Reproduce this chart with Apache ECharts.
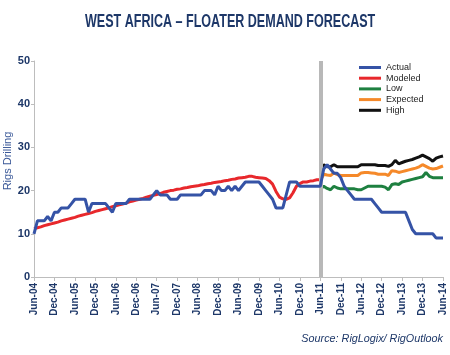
<!DOCTYPE html>
<html><head><meta charset="utf-8">
<script src="https://cdn.jsdelivr.net/npm/echarts@6/dist/echarts.min.js"></script>
<style>html,body{margin:0;padding:0;background:#fff}#c{width:450px;height:355px}</style>
</head><body><div id="c"></div>
<script>
// Monthly categories Jun-04 .. Jun-14
const MONTHS = ['Jan','Feb','Mar','Apr','May','Jun','Jul','Aug','Sep','Oct','Nov','Dec'];
const categories = [];
for (let i = 0; i <= 120; i++) {
  const k = 5 + i;
  categories.push(MONTHS[k % 12] + '-' + String(4 + Math.floor(k / 12)).padStart(2, '0'));
}
const forecastStart = 'Jun-11';
const yTicks = [0, 10, 20, 30, 40, 50];

const actual = [10,13,13,13,14,13,15,15,16,16,16,17,18,18,18,18,15,17,17,17,
  17,17,16,15,17,17,17,17,18,18,18,18,18,18,18,19,20,19,19,19,
  18,18,18,19,19,19,19,19,19,19,20,20,20,19,21,20,20,21,20,21,
  20,21,22,22,22,22,22,21,20,19,18,16,16,16,19,22,22,22,21,21,
  21,21,21,21,21,25,26,25,24,24,23,21,20,19,18,18,18,18,18,18,
  17,16,15,15,15,15,15,15,15,15,13,11,10,10,10,10,10,10,9,9,9];

const modeled = [11.2,11.4,11.6,11.9,12.1,12.3,12.5,12.7,13.0,13.2,13.4,13.6,13.8,14.1,14.3,14.5,14.7,14.9,15.2,15.4,
  15.6,15.8,16.0,16.3,16.5,16.7,16.9,17.1,17.4,17.6,17.8,18.0,18.2,18.5,18.7,18.9,19.1,19.3,19.6,19.8,
  20.0,20.1,20.3,20.4,20.6,20.7,20.9,21.0,21.1,21.3,21.4,21.6,21.7,21.9,22.0,22.1,22.3,22.4,22.6,22.7,
  22.9,23.0,23.1,23.3,23.3,23.1,23.0,22.9,22.8,22.3,21.5,19.8,18.5,18.1,18.0,18.3,19.5,21.0,21.6,22.0,
  22.0,22.2,22.3,22.5,22.5];

// Forecasts from Jun-11 to Jun-14
const low = [20.4,21.0,20.5,20.2,21.0,20.6,20.4,20.4,20.4,20.4,20.4,20.2,20.2,20.6,21.0,21.0,21.0,21.0,21.0,20.8,
  20.2,21.4,21.6,21.4,22.0,22.2,22.4,22.6,22.8,23.0,23.2,24.2,23.3,23.0,23.0,23.0,23.0];
const expected = [22.3,23.8,23.6,23.5,24.1,23.7,23.5,23.5,23.5,23.5,23.5,23.5,24.1,24.2,24.2,24.1,24.0,23.8,23.8,23.8,
  23.5,24.6,24.5,24.2,24.4,24.6,24.8,25.0,25.2,25.5,26.0,25.6,25.2,25.0,25.1,25.4,25.7];
const high = [24.5,26.0,25.5,25.5,26.0,25.5,25.5,25.5,25.5,25.5,25.5,25.5,26.0,26.0,26.0,26.0,26.0,25.8,25.8,25.8,
  25.6,26.0,27.0,26.2,26.5,26.8,27.0,27.2,27.5,27.8,28.2,27.8,27.4,26.8,27.5,27.8,28.0];

const startIdx = categories.indexOf(forecastStart);
const pad = arr => Array(startIdx).fill(null).concat(arr);

const NAVY = '#1d3768';
const chart = echarts.init(document.getElementById('c'));
function line(name, data, color, z) {
  return { name, type: 'line', data, symbol: 'none', z: z,
    lineStyle: { color, width: 3 }, itemStyle: { color }, emphasis: { disabled: true } };
}
const sActual = line('Actual', actual, '#3553a6', 5);
sActual.markLine = { silent: true, symbol: 'none', label: { show: false },
  lineStyle: { color: '#b8b8b8', width: 4, type: 'solid' },
  data: [{ xAxis: forecastStart }] };

chart.setOption({
  animation: false,
  legend: { orient: 'vertical', left: 354, top: 57.5, icon: 'rect', itemWidth: 22, itemHeight: 3, itemGap: 0.7,
    textStyle: { fontFamily: 'Liberation Sans', fontSize: 9, color: '#222', lineHeight: 10 },
    data: ['Actual','Modeled','Low','Expected','High'] },
  grid: { left: 34, right: 7, top: 61, bottom: 78 },
  xAxis: { type: 'category', data: categories, boundaryGap: false,
    axisLine: { lineStyle: { color: '#bdbdbd', width: 1 } },
    axisTick: { interval: 5, length: 4, lineStyle: { color: '#bdbdbd' } },
    axisLabel: { interval: 5, rotate: 90, margin: 6, fontFamily: 'Liberation Sans', fontWeight: 'bold', fontSize: 10, color: NAVY },
    splitLine: { show: false } },
  yAxis: { type: 'value', min: yTicks[0], max: yTicks[yTicks.length - 1], interval: 10,
    axisLine: { show: true, lineStyle: { color: '#bdbdbd' } },
    axisTick: { show: true, length: 3, lineStyle: { color: '#bdbdbd' } },
    axisLabel: { margin: 4, fontFamily: 'Liberation Sans', fontWeight: 'bold', fontSize: 11, color: NAVY },
    splitLine: { show: false } },
  graphic: [
    { type: 'text', x: 85, y: 12, scaleX: 0.66,
      style: { text: 'WEST AFRICA – FLOATER DEMAND FORECAST', fontFamily: 'Liberation Sans', fontWeight: 'bold', fontSize: 19, fill: NAVY, verticalAlign: 'top' } },
    { type: 'text', x: 8, y: 161, rotation: Math.PI / 2,
      style: { text: 'Rigs Drilling', fontFamily: 'Liberation Sans', fontSize: 11, fill: '#3a5898', align: 'center', verticalAlign: 'middle' } },
    { type: 'text', right: 7, top: 333,
      style: { text: 'Source: RigLogix/ RigOutlook', fontFamily: 'Liberation Sans', fontStyle: 'italic', fontSize: 10.8, fill: NAVY } }
  ],
  series: [
    sActual,
    line('Modeled', modeled, '#e8282c', 4),
    line('Low', pad(low), '#1e8040', 3),
    line('Expected', pad(expected), '#f5892a', 3),
    line('High', pad(high), '#111111', 3)
  ]
});
</script></body></html>
